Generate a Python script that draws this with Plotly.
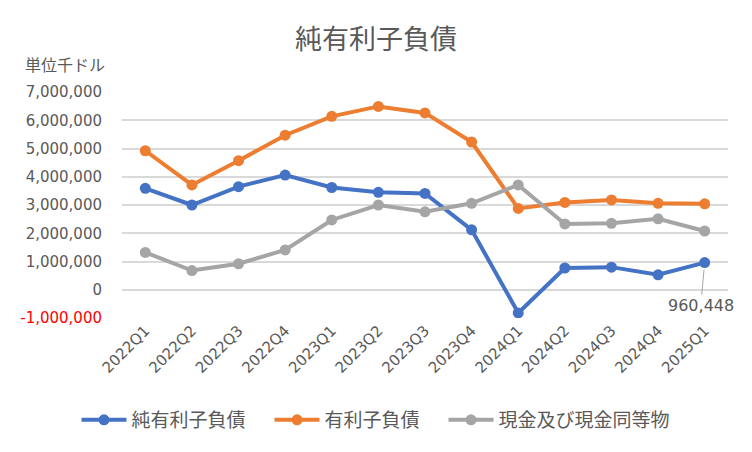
import plotly.graph_objects as go

quarters = ["2022Q1", "2022Q2", "2022Q3", "2022Q4", "2023Q1", "2023Q2", "2023Q3",
            "2023Q4", "2024Q1", "2024Q2", "2024Q3", "2024Q4", "2025Q1"]

# 単位: 千ドル
net_debt = [3590000, 3000000, 3650000, 4060000, 3620000, 3450000, 3410000,
            2120000, -820000, 770000, 800000, 530000, 960448]
interest_debt = [4920000, 3710000, 4570000, 5470000, 6140000, 6490000, 6260000,
                 5230000, 2880000, 3090000, 3180000, 3060000, 3040000]
cash = [1320000, 680000, 920000, 1410000, 2470000, 3000000, 2760000,
        3060000, 3710000, 2330000, 2350000, 2510000, 2080000]

series_names = ["純有利子負債", "有利子負債", "現金及び現金同等物"]

y_ticks = [-1000000, 0, 1000000, 2000000, 3000000, 4000000, 5000000, 6000000, 7000000]
y_labels = ['<span style="color:#ff0000">-1,000,000</span>', "0", "1,000,000", "2,000,000",
            "3,000,000", "4,000,000", "5,000,000", "6,000,000", "7,000,000"]

txt = "#595959"
jp = "Noto Sans CJK JP"
num = "DejaVu Sans"

fig = go.Figure()
# 凡例の間隔を広げるため、後ろに全角スペース
for name, vals, col, pad in [(series_names[0], net_debt, "#4472C4", "\u3000"),
                             (series_names[1], interest_debt, "#ED7D31", "\u3000"),
                             (series_names[2], cash, "#A5A5A5", "")]:
    fig.add_trace(go.Scatter(x=quarters, y=vals, name=name + pad, mode="lines+markers",
                             line=dict(color=col, width=4),
                             marker=dict(color=col, size=11)))

fig.add_annotation(x=quarters[-1], y=net_debt[-1], text="960,448", showarrow=True,
                   arrowhead=0, arrowwidth=1, arrowcolor="#A5A5A5", ax=-4, ay=43,
                   standoff=7, font=dict(family=num, size=16, color=txt))
fig.add_annotation(xref="paper", yref="paper", x=-100 / 615, y=1.124,
                   xanchor="left", yanchor="middle", text="単位千ドル", showarrow=False,
                   font=dict(family=jp, size=16, color=txt))

fig.update_layout(
    width=736, height=444,
    margin=dict(l=105, r=16, t=84, b=134),
    paper_bgcolor="white", plot_bgcolor="white",
    font=dict(family=jp, color=txt),
    title=dict(text="純有利子負債", x=0.5, xanchor="center", y=1 - 32 / 444,
               yanchor="middle", font=dict(family=jp, size=27, color=txt)),
    legend=dict(orientation="h", xref="container", yref="container", x=0.5, y=1 - 412 / 444,
                xanchor="center", yanchor="middle", font=dict(family=jp, size=19, color=txt),
                itemwidth=45),
    showlegend=True,
)
fig.update_xaxes(type="category", range=[-0.5, len(quarters) - 0.5], tickangle=-45,
                 tickfont=dict(family=num, size=15, color=txt),
                 showgrid=False, showline=False, ticks="")
fig.update_yaxes(range=[-1000000, 7000000], tickvals=y_ticks, ticktext=y_labels,
                 tickfont=dict(family=num, size=15, color=txt), gridcolor="#d9d9d9", gridwidth=1.5,
                 zeroline=False, showline=False, ticklabelstandoff=19)

fig.write_html("out.html")
